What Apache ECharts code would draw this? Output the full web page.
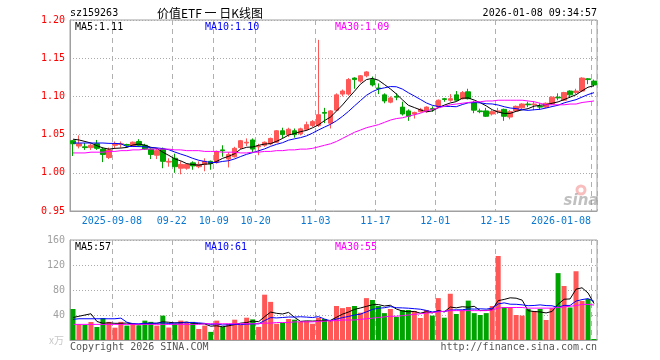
<!DOCTYPE html>
<html><head><meta charset="utf-8">
<script src="https://cdn.jsdelivr.net/npm/echarts@6/dist/echarts.min.js"></script>
<style>html,body{margin:0;padding:0;background:#fff}#c{width:660px;height:360px}</style>
</head><body><div id="c"></div>
<script>
const dates = ['2025-08-28','2025-08-29','2025-09-01','2025-09-02','2025-09-03','2025-09-04','2025-09-05','2025-09-08','2025-09-09','2025-09-10',
'2025-09-11','2025-09-12','2025-09-15','2025-09-16','2025-09-17','2025-09-18','2025-09-19','2025-09-22','2025-09-23','2025-09-24',
'2025-09-25','2025-09-26','2025-09-29','2025-09-30','2025-10-09','2025-10-10','2025-10-13','2025-10-14','2025-10-15','2025-10-16',
'2025-10-17','2025-10-20','2025-10-21','2025-10-22','2025-10-23','2025-10-24','2025-10-27','2025-10-28','2025-10-29','2025-10-30',
'2025-10-31','2025-11-03','2025-11-04','2025-11-05','2025-11-06','2025-11-07','2025-11-10','2025-11-11','2025-11-12','2025-11-13',
'2025-11-14','2025-11-17','2025-11-18','2025-11-19','2025-11-20','2025-11-21','2025-11-24','2025-11-25','2025-11-26','2025-11-27',
'2025-11-28','2025-12-01','2025-12-02','2025-12-03','2025-12-04','2025-12-05','2025-12-08','2025-12-09','2025-12-10','2025-12-11',
'2025-12-12','2025-12-15','2025-12-16','2025-12-17','2025-12-18','2025-12-19','2025-12-22','2025-12-23','2025-12-24','2025-12-25',
'2025-12-26','2025-12-29','2025-12-30','2025-12-31','2026-01-05','2026-01-06','2026-01-07','2026-01-08'];

const opens = [1.042,1.035,1.034,1.033,1.038,1.031,1.020,1.036,1.037,1.037,
1.035,1.041,1.036,1.031,1.023,1.031,1.014,1.019,1.006,1.006,
1.013,1.008,1.011,1.015,1.014,1.030,1.018,1.021,1.033,1.039,
1.043,1.034,1.036,1.038,1.040,1.055,1.050,1.055,1.051,1.057,
1.062,1.062,1.079,1.065,1.082,1.103,1.103,1.124,1.120,1.127,
1.122,1.111,1.102,1.0925,1.100,1.086,1.081,1.077,1.080,1.080,
1.084,1.086,1.097,1.095,1.102,1.097,1.106,1.092,1.081,1.081,
1.077,1.080,1.083,1.073,1.081,1.085,1.090,1.089,1.087,1.086,
1.090,1.099,1.095,1.107,1.105,1.107,1.123,1.120];

const closes = [1.038,1.038,1.033,1.036,1.032,1.024,1.030,1.038,1.038,1.036,
1.040,1.036,1.031,1.024,1.029,1.015,1.015,1.008,1.011,1.011,
1.009,1.011,1.015,1.012,1.028,1.029,1.024,1.032,1.042,1.040,
1.031,1.035,1.040,1.045,1.055,1.050,1.057,1.050,1.0575,1.063,
1.067,1.076,1.078,1.081,1.102,1.107,1.122,1.122,1.127,1.132,
1.115,1.110,1.094,1.098,1.099,1.077,1.074,1.079,1.083,1.086,
1.083,1.095,1.096,1.097,1.095,1.105,1.097,1.082,1.080,1.074,
1.080,1.081,1.074,1.080,1.087,1.090,1.089,1.090,1.086,1.091,
1.099,1.098,1.105,1.102,1.107,1.124,1.122,1.115];

const lows = [1.022,1.032,1.030,1.030,1.030,1.014,1.018,1.032,1.033,1.034,
1.034,1.034,1.030,1.018,1.018,1.006,1.008,1.000,0.998,1.004,
1.004,1.006,1.002,1.004,1.012,1.021,1.007,1.020,1.031,1.035,
1.027,1.023,1.034,1.036,1.039,1.045,1.047,1.046,1.049,1.055,
1.060,1.060,1.065,1.058,1.080,1.100,1.101,1.110,1.118,1.125,
1.113,1.103,1.091,1.091,1.095,1.075,1.068,1.071,1.079,1.079,
1.080,1.085,1.093,1.093,1.094,1.096,1.096,1.078,1.078,1.073,
1.075,1.077,1.068,1.070,1.080,1.083,1.086,1.082,1.083,1.085,
1.089,1.095,1.094,1.098,1.103,1.106,1.116,1.113];

const highs = [1.043,1.049,1.039,1.038,1.043,1.033,1.033,1.041,1.041,1.038,
1.041,1.044,1.038,1.032,1.031,1.033,1.019,1.025,1.015,1.012,
1.015,1.015,1.019,1.016,1.029,1.036,1.027,1.034,1.043,1.045,
1.045,1.038,1.041,1.046,1.056,1.059,1.059,1.058,1.059,1.067,
1.069,1.174,1.085,1.082,1.104,1.109,1.124,1.125,1.128,1.133,
1.126,1.117,1.104,1.100,1.104,1.093,1.083,1.080,1.085,1.087,
1.087,1.096,1.098,1.103,1.107,1.107,1.110,1.094,1.084,1.085,
1.082,1.085,1.084,1.082,1.088,1.091,1.093,1.094,1.091,1.092,
1.100,1.104,1.106,1.108,1.110,1.125,1.124,1.122];

// volume (万)
const volumes = [49.6,25,24,28.8,20.8,35,29,19.7,29,23,
27,23.5,31,29,23,39,20,26,31,28,
29,17.6,23,13,31,21,26,32.5,24.5,35.7,
33,21,72.5,61,26,27.7,33.6,32.5,29,30,
26,35.7,33.6,32,54.4,51,52.8,54.4,43.7,67,
64,54.4,43,49.6,36.8,48,48,46.4,35.2,48,
39,67,35.7,74,41.6,48,63,43,40,43,
54.4,134.4,52.8,52.8,40,39,49.6,46.4,49.6,32,
51,107,86.4,52,110,62.4,65.6,1.6];

const priceMa5Head = [1.044,1.043,1.041,1.039];
const priceMa10Head = [1.039,1.039,1.039,1.039,1.039,1.039,1.0385,1.0385,1.038];
const priceMa30 = [1.026,1.026,1.026,1.027,1.027,1.027,1.028,1.028,1.029,1.029,
1.030,1.030,1.031,1.031,1.031,1.031,1.031,1.030,1.030,1.029,
1.029,1.029,1.028,1.028,1.028,1.027,1.027,1.027,1.026,1.026,
1.027,1.027,1.028,1.028,1.029,1.029,1.030,1.030,1.031,1.031,
1.032,1.034,1.036,1.038,1.041,1.045,1.049,1.053,1.056,1.059,
1.061,1.063,1.066,1.069,1.071,1.072,1.074,1.076,1.078,1.081,
1.083,1.085,1.087,1.089,1.090,1.091,1.092,1.093,1.093,1.094,
1.094,1.095,1.095,1.095,1.095,1.095,1.094,1.093,1.091,1.089,
1.089,1.089,1.089,1.090,1.090,1.092,1.093,1.094];
const volMa5Head = [36,38,40,42];
const volMa10Head = [33,34,34,34,34,34,34,34,35];
const volMa30 = [25,25,25,25,25,25,25,25,25,25,
25,25,25,25,25,25,25,25,25,25,
25,25,26,26,26,26,26,26,26,26,
26,26,27,27,28,28,28,29,29,29,
29,30,30,31,31,32,32,32,33,34,
35,36,37,38,38,39,40,41,42,43,
44,45,46,47,47,47,47,47,47,47,
48,51,52,52,52,52,51,51,51,51,
51,52,53,54,55,57,57,56];

const tickDates = ['2025-09-08','2025-09-22','2025-10-09','2025-10-20','2025-11-03','2025-11-17','2025-12-01','2025-12-15','2026-01-08'];
const tickLabels = ['2025-09-08','09-22','10-09','10-20','11-03','11-17','12-01','12-15','2026-01-08'];
const priceTicks = {min:0.95, max:1.20, interval:0.05};
const volTicks = {min:0, max:160, interval:40};

const RED = '#ff5656', GREEN = '#00a400';
const MONO = 'DejaVu Sans Mono';

function movingAvg(src, n, head) {
  return src.map((v, i) => {
    if (i < n - 1) return head[i];
    let s = 0;
    for (let k = i - n + 1; k <= i; k++) s += src[k];
    return s / n;
  });
}

const candleData = dates.map((d, i) => [opens[i], closes[i], lows[i], highs[i]]);
const volData = volumes.map((v, i) => ({value: v, itemStyle: {color: closes[i] >= opens[i] ? RED : GREEN}}));
const pMa5 = movingAvg(closes, 5, priceMa5Head);
const pMa10 = movingAvg(closes, 10, priceMa10Head);
const vMa5 = movingAvg(volumes, 5, volMa5Head);
const vMa10 = movingAvg(volumes, 10, volMa10Head);

const isTick = (idx, val) => tickDates.indexOf(val) >= 0;

function lineS(data, color, xi) {
  return {type:'line', data, xAxisIndex:xi, yAxisIndex:xi, symbol:'none', smooth:false,
    lineStyle:{color, width:1}, itemStyle:{color}, z:5, silent:true};
}

function txt(text, x, y, color, opts) {
  opts = opts || {};
  return {type:'text', x, y, z:100, silent:true, style:{text, fill:color,
    font: opts.font || ('10px ' + MONO), align: opts.align || 'left', verticalAlign:'middle',
    textAlign: opts.align || 'left', textVerticalAlign:'middle', opacity: opts.opacity == null ? 1 : opts.opacity}};
}

const chart = echarts.init(document.getElementById('c'), null, {renderer:'canvas'});
chart.setOption({
  animation:false,
  backgroundColor:'#fff',
  grid:[
    {left:70, right:63, top:20, height:191, show:true, borderColor:'#a0a0a0', borderWidth:1, outerBoundsMode:'none', containLabel:false},
    {left:70, right:63, top:240, height:100, show:true, borderColor:'#a0a0a0', borderWidth:1, outerBoundsMode:'none', containLabel:false}
  ],
  xAxis:[
    {type:'category', gridIndex:0, data:dates, boundaryGap:true,
     axisLine:{show:true, lineStyle:{color:'#a0a0a0'}}, axisTick:{show:false},
     axisLabel:{interval:isTick, hideOverlap:false, color:'#0a78d2', fontFamily:MONO, fontSize:10, margin:5,
       formatter:(val) => {const k = tickDates.indexOf(val); if (k < 0) return ''; return (k === tickDates.length-1 ? '{e|' : '{m|') + tickLabels[k] + '}';},
       rich:{m:{padding:[0,6,0,0], color:'#0a78d2', fontFamily:MONO, fontSize:10},
             e:{padding:[0,66,0,0], color:'#0a78d2', fontFamily:MONO, fontSize:10}}},
     splitLine:{show:true, interval:isTick, lineStyle:{color:'#b0b0b0', type:[5,4], width:1}}},
    {type:'category', gridIndex:1, data:dates, boundaryGap:true,
     axisLine:{show:true, lineStyle:{color:'#a0a0a0'}}, axisTick:{show:false}, axisLabel:{show:false},
     splitLine:{show:true, interval:isTick, lineStyle:{color:'#b0b0b0', type:[5,4], width:1}}}
  ],
  yAxis:[
    {type:'value', gridIndex:0, min:priceTicks.min, max:priceTicks.max, interval:priceTicks.interval, scale:true,
     axisLine:{show:true, lineStyle:{color:'#a0a0a0'}}, axisTick:{show:false},
     axisLabel:{color:'#ff0000', fontFamily:MONO, fontSize:10, margin:5, formatter:(v) => v.toFixed(2)},
     splitLine:{show:true, lineStyle:{color:'#aaaaaa', type:[1,2], width:1}}},
    {type:'value', gridIndex:1, min:volTicks.min, max:volTicks.max, interval:volTicks.interval,
     axisLine:{show:true, lineStyle:{color:'#a0a0a0'}}, axisTick:{show:false},
     axisLabel:{color:'#a0a0a0', fontFamily:MONO, fontSize:10, margin:5, formatter:(v) => v === 0 ? '' : String(v)},
     splitLine:{show:true, lineStyle:{color:'#aaaaaa', type:[1,2], width:1}}}
  ],
  series:[
    {type:'candlestick', xAxisIndex:0, yAxisIndex:0, data:candleData, barWidth:5,
     itemStyle:{color:RED, color0:GREEN, borderColor:RED, borderColor0:GREEN, borderWidth:1}, z:3, silent:true},
    lineS(pMa5, '#000000', 0),
    lineS(pMa10, '#0000ff', 0),
    lineS(priceMa30, '#ff00ff', 0),
    {type:'bar', xAxisIndex:1, yAxisIndex:1, data:volData, barWidth:5, z:3, silent:true},
    lineS(vMa5, '#000000', 1),
    lineS(vMa10, '#0000ff', 1),
    lineS(volMa30, '#ff00ff', 1)
  ],
  graphic:[
    txt('sz159263', 70, 13, '#000'),
    txt('价值ETF 一 日K线图', 210, 13, '#000', {align:'center', font:'12px "Noto Sans CJK SC"'}),
    txt('2026-01-08 09:34:57', 597, 13, '#000', {align:'right'}),
    txt('MA5:1.11', 75, 27, '#000'),
    txt('MA10:1.10', 205, 27, '#0000ff'),
    txt('MA30:1.09', 335, 27, '#ff00ff'),
    txt('MA5:57', 75, 247, '#000'),
    txt('MA10:61', 205, 247, '#0000ff'),
    txt('MA30:55', 335, 247, '#ff00ff'),
    txt('x万', 49, 340, '#c8c8c8', {font:'10px "Noto Sans CJK SC"'}),
    txt('Copyright 2026 SINA.COM', 70, 347, '#555'),
    txt('http://finance.sina.com.cn', 597, 347, '#555', {align:'right'}),
    {type:'circle', shape:{cx:581, cy:190, r:4}, z:50, silent:true, style:{fill:'none', stroke:'rgba(240,110,110,0.45)', lineWidth:3}},
    txt('sina', 581, 201, 'rgba(140,140,140,0.55)', {align:'center', font:'italic bold 15px "DejaVu Sans"'})
  ]
});
</script>
</body></html>
